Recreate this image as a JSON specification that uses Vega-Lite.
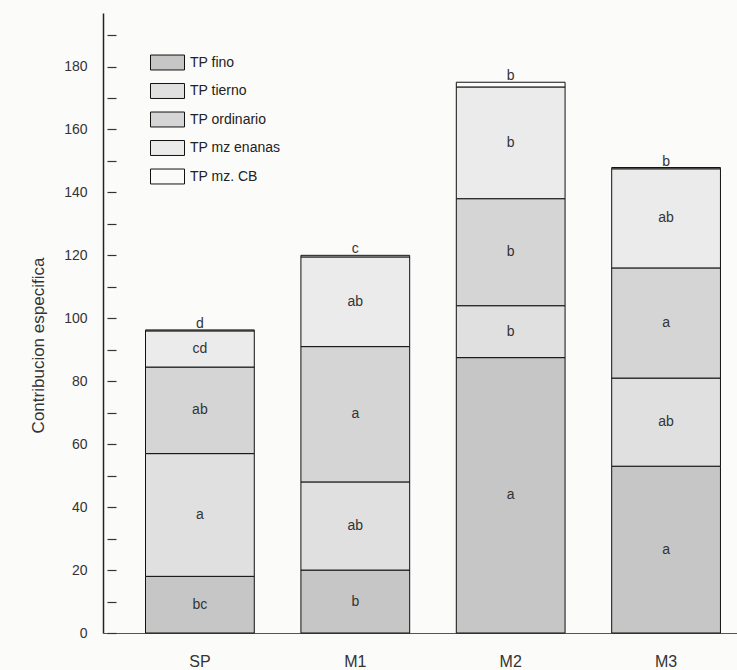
{
  "$schema": "https://vega.github.io/schema/vega-lite/v6.json",
  "width": 634,
  "height": 620,
  "autosize": {"type": "none"},
  "padding": {"left": 103, "top": 13, "right": 0, "bottom": 37},
  "background": "#fbfbfa",
  "config": {"view": {"stroke": null}, "font": "Liberation Sans"},
  "data": {
    "values": [
      {"t": "SP", "c": "TP fino", "i": 1, "v": 18, "l": "bc"},
      {"t": "SP", "c": "TP tierno", "i": 2, "v": 39, "l": "a"},
      {"t": "SP", "c": "TP ordinario", "i": 3, "v": 27.5, "l": "ab"},
      {"t": "SP", "c": "TP mz  enanas", "i": 4, "v": 11.5, "l": "cd"},
      {"t": "SP", "c": "TP mz. CB", "i": 5, "v": 0.3, "l": "d"},
      {"t": "M1", "c": "TP fino", "i": 1, "v": 20, "l": "b"},
      {"t": "M1", "c": "TP tierno", "i": 2, "v": 28, "l": "ab"},
      {"t": "M1", "c": "TP ordinario", "i": 3, "v": 43, "l": "a"},
      {"t": "M1", "c": "TP mz  enanas", "i": 4, "v": 28.5, "l": "ab"},
      {"t": "M1", "c": "TP mz. CB", "i": 5, "v": 0.5, "l": "c"},
      {"t": "M2", "c": "TP fino", "i": 1, "v": 87.5, "l": "a"},
      {"t": "M2", "c": "TP tierno", "i": 2, "v": 16.5, "l": "b"},
      {"t": "M2", "c": "TP ordinario", "i": 3, "v": 34, "l": "b"},
      {"t": "M2", "c": "TP mz  enanas", "i": 4, "v": 35.5, "l": "b"},
      {"t": "M2", "c": "TP mz. CB", "i": 5, "v": 1.5, "l": "b"},
      {"t": "M3", "c": "TP fino", "i": 1, "v": 53, "l": "a"},
      {"t": "M3", "c": "TP tierno", "i": 2, "v": 28, "l": "ab"},
      {"t": "M3", "c": "TP ordinario", "i": 3, "v": 35, "l": "a"},
      {"t": "M3", "c": "TP mz  enanas", "i": 4, "v": 31.5, "l": "ab"},
      {"t": "M3", "c": "TP mz. CB", "i": 5, "v": 0.4, "l": "b"}
    ]
  },
  "transform": [
    {"stack": "v", "groupby": ["t"], "sort": [{"field": "i", "order": "ascending"}], "as": ["y0", "y1"]},
    {"calculate": "(datum.y0 + datum.y1) / 2", "as": "ym"}
  ],
  "encoding": {
    "x": {
      "field": "t",
      "type": "nominal",
      "sort": ["SP", "M1", "M2", "M3"],
      "scale": {"paddingInner": 0.3, "paddingOuter": 0.19, "align": 0.72},
      "axis": {
        "title": null,
        "labelAngle": 0,
        "ticks": false,
        "labelFontSize": 16,
        "labelColor": "#333",
        "labelPadding": 20,
        "domainColor": "#555",
        "domainWidth": 1
      }
    }
  },
  "resolve": {"scale": {"y": "shared"}, "axis": {"y": "independent"}},
  "layer": [
    {
      "mark": {"type": "bar", "stroke": "#111", "strokeWidth": 1},
      "encoding": {
        "y": {
          "field": "y0",
          "type": "quantitative",
          "scale": {"domain": [0, 197], "nice": false, "zero": true},
          "axis": {
            "orient": "left",
            "values": [0, 20, 40, 60, 80, 100, 120, 140, 160, 180],
            "grid": false,
            "ticks": false,
            "labelPadding": 16,
            "labelFontSize": 14,
            "labelColor": "#333",
            "domainColor": "#222",
            "domainWidth": 1.5,
            "title": "Contribucion especifica",
            "titleFontSize": 17,
            "titleFontWeight": "normal",
            "titleColor": "#333",
            "titleX": -65,
            "titleY": 332,
            "titleAngle": -90,
            "titleAlign": "center",
            "titleBaseline": "middle"
          }
        },
        "y2": {"field": "y1"},
        "fill": {
          "field": "c",
          "type": "nominal",
          "scale": {
            "domain": ["TP fino", "TP tierno", "TP ordinario", "TP mz  enanas", "TP mz. CB"],
            "range": ["#c6c6c6", "#e0e0e0", "#d5d5d5", "#ebebeb", "#fbfbfa"]
          },
          "legend": {
            "orient": "none",
            "legendX": 47,
            "legendY": 32,
            "title": null,
            "padding": 0,
            "symbolType": "M-1,-0.44H1V0.44H-1Z",
            "symbolSize": 1156,
            "symbolStrokeColor": "#111",
            "symbolStrokeWidth": 1,
            "symbolOpacity": 1,
            "labelFontSize": 14,
            "labelColor": "#222",
            "labelOffset": 5,
            "rowPadding": 1.5
          }
        }
      }
    },
    {
      "transform": [{"filter": "datum.c != 'TP mz. CB'"}],
      "mark": {"type": "text", "fontSize": 14, "color": "#333", "baseline": "middle"},
      "encoding": {
        "y": {
          "field": "ym",
          "type": "quantitative",
          "scale": {"domain": [0, 197], "nice": false, "zero": true},
          "axis": {
            "orient": "left",
            "values": [0, 10, 20, 30, 40, 50, 60, 70, 80, 90, 100, 110, 120, 130, 140, 150, 160, 170, 180, 190],
            "grid": false,
            "domain": false,
            "labels": false,
            "ticks": true,
            "tickSize": 9,
            "tickWidth": 1.2,
            "tickColor": "#333",
            "offset": -13,
            "title": null
          }
        },
        "text": {"field": "l"}
      }
    },
    {
      "transform": [{"filter": "datum.c == 'TP mz. CB'"}],
      "mark": {"type": "text", "fontSize": 14, "color": "#333", "baseline": "bottom", "dy": 1},
      "encoding": {
        "y": {"field": "y1", "type": "quantitative", "axis": null},
        "text": {"field": "l"}
      }
    }
  ]
}
